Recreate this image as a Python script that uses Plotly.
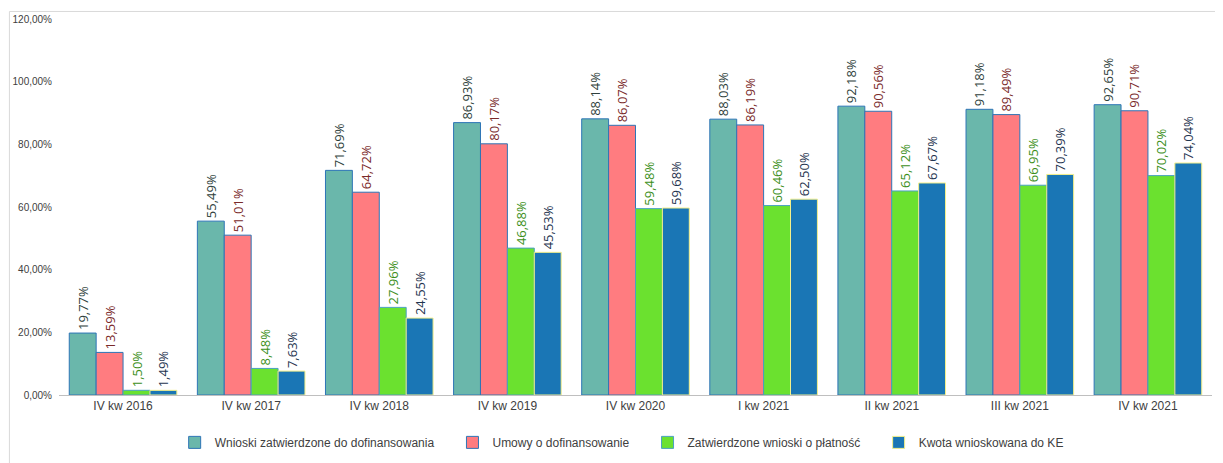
import plotly.graph_objects as go

categories = ["IV kw 2016", "IV kw 2017", "IV kw 2018", "IV kw 2019", "IV kw 2020",
              "I kw 2021", "II kw 2021", "III kw 2021", "IV kw 2021"]
wnioski = [19.77, 55.49, 71.69, 86.93, 88.14, 88.03, 92.18, 91.18, 92.65]
umowy = [13.59, 51.01, 64.72, 80.17, 86.07, 86.19, 90.56, 89.49, 90.71]
platnosc = [1.50, 8.48, 27.96, 46.88, 59.48, 60.46, 65.12, 66.95, 70.02]
kwota = [1.49, 7.63, 24.55, 45.53, 59.68, 62.50, 67.67, 70.39, 74.04]

PAD = "\u00a0" * 4
series = [
    ("Wnioski zatwierdzone do dofinansowania", wnioski, "#6ab7ab", "#2e75b6", "#2f3f3c"),
    ("Umowy o dofinansowanie", umowy, "#ff7c80", "#2e75b6", "#7a2a2a"),
    ("Zatwierdzone wnioski o płatność", platnosc, "#6be12f", "#4aa0c0", "#3c8f1a"),
    ("Kwota wnioskowana do KE", kwota, "#1a76b5", "#f5f08a", "#1f3550"),
]

def fmt(v):
    return ("%.2f" % v).replace(".", ",") + "%"

fig = go.Figure()
for i, (name, vals, col, lcol, tcol) in enumerate(series):
    fig.add_trace(go.Bar(
        name=name + (PAD if i < len(series) - 1 else ""), x=categories, y=vals,
        marker=dict(color=col, line=dict(color=lcol, width=1)),
        text=[fmt(v) for v in vals], textposition="outside", textangle=-90,
        constraintext="none",
        textfont=dict(family="Open Sans, Liberation Sans, sans-serif", size=13, color=tcol),
        cliponaxis=False,
    ))

fig.update_layout(
    width=1223, height=463,
    barmode="group", bargap=0.16, bargroupgap=0,
    separators=", ",
    plot_bgcolor="white", paper_bgcolor="white",
    margin=dict(l=51, r=19, t=11, b=76, autoexpand=False),
    font=dict(family="Liberation Sans, Arial, sans-serif", size=11, color="#404040"),
    yaxis=dict(range=[0, 120], dtick=20, tickformat=".2f", ticksuffix="%",
               showgrid=False, zeroline=False, showline=False,
               tickfont=dict(size=10, color="#404040"), ticklabelstandoff=6),
    xaxis=dict(showline=True, linecolor="#bfbfbf", linewidth=1, showgrid=False,
               tickfont=dict(size=12, color="#404040")),
    legend=dict(orientation="h", x=0.488, xanchor="center", y=-0.126, yanchor="middle",
                font=dict(size=12, color="#404040"), itemwidth=30,
                traceorder="normal"),
    showlegend=True,
)
fig.add_shape(type="rect", xref="paper", yref="paper", x0=-0.043, x1=1.02, y0=-0.3, y1=1.02,
              line=dict(color="#d9d9d9", width=1), layer="below")
fig.write_html("out.html")
